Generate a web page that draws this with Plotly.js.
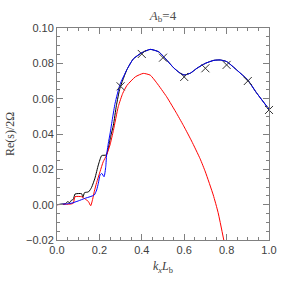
<!DOCTYPE html>
<html><head><meta charset="utf-8">
<script src="https://cdn.plot.ly/plotly-3.0.1.min.js"></script>
<style>html,body{margin:0;padding:0;background:#fff;}#plot{width:283px;height:283px;}</style>
</head><body><div id="plot"></div>
<script>
// Black curve
const blackK = [0,0.02,0.04,0.05,0.06,0.069,0.077,0.085,0.116,0.122,0.13,0.148,0.156,0.164,0.179,0.195,0.211,0.232,0.242,0.253,0.266,0.28,0.297,0.33,0.36,0.40,0.44,0.48,0.52,0.55,0.58,0.60,0.63,0.66,0.70,0.74,0.77,0.80,0.85,0.90,0.94,1.0];
const blackRe = [0,0.0003,0.0006,0.0017,0.0012,0.0026,0.0030,0.0060,0.0062,0.0042,0.0068,0.0072,0.0083,0.0100,0.0150,0.0225,0.0278,0.0281,0.0319,0.0385,0.0450,0.0560,0.0660,0.0765,0.0825,0.0860,0.0879,0.0865,0.0815,0.0775,0.0745,0.0734,0.0745,0.0772,0.0800,0.0817,0.0819,0.0810,0.0760,0.0705,0.0635,0.0540];
// Blue curve
const blueK = [0,0.02,0.05,0.07,0.1,0.13,0.156,0.176,0.187,0.195,0.203,0.211,0.222,0.23,0.234,0.242,0.25,0.262,0.274,0.297,0.33,0.36,0.40,0.44,0.48,0.52,0.55,0.58,0.60,0.63,0.66,0.70,0.74,0.77,0.80,0.85,0.90,0.94,1.0];
const blueRe = [0,0.0002,0.0005,0.0009,0.0021,0.0035,0.0045,0.0055,0.0083,0.0121,0.0168,0.0177,0.0158,0.0215,0.0281,0.0347,0.0400,0.0490,0.0574,0.0680,0.0765,0.0825,0.0860,0.0879,0.0865,0.0815,0.0775,0.0745,0.0734,0.0745,0.0772,0.0800,0.0817,0.0819,0.0810,0.0760,0.0705,0.0635,0.0540];
// Red curve
const redK = [0,0.04,0.066,0.077,0.085,0.116,0.135,0.148,0.159,0.168,0.176,0.187,0.203,0.218,0.234,0.25,0.266,0.289,0.31,0.33,0.37,0.407,0.44,0.47,0.517,0.565,0.60,0.635,0.675,0.70,0.737,0.76,0.79];
const redRe = [0,0.0002,0.0004,0.0008,0.0045,0.0045,0.0030,0.0018,-0.0006,0.0030,0.0075,0.0125,0.0187,0.0243,0.0281,0.0338,0.0420,0.0555,0.0630,0.0675,0.0724,0.0743,0.0733,0.0690,0.0611,0.0515,0.0440,0.0360,0.0260,0.0185,0.0055,-0.0045,-0.0220];
// Cross markers
const crossK = [0.3,0.4,0.5,0.6,0.7,0.8,0.9,1.0];
const crossRe = [0.067,0.0853,0.0832,0.0723,0.0772,0.0791,0.0700,0.0536];

const lineStyle = (c) => ({color:c, width:1, shape:'spline', smoothing:0.5});
const traces = [
  {x:blackK, y:blackRe, mode:'lines', line:lineStyle('#000000'), hoverinfo:'skip'},
  {x:redK, y:redRe, mode:'lines', line:lineStyle('#ff0000'), hoverinfo:'skip'},
  {x:blueK, y:blueRe, mode:'lines', line:lineStyle('#0000ff'), hoverinfo:'skip'},
  {x:crossK, y:crossRe, mode:'markers', cliponaxis:false,
   marker:{symbol:'x-thin-open', size:8, color:'#333333', line:{color:'#333333', width:1}}, hoverinfo:'skip'}
];
const axisCommon = {
  showline:true, linecolor:'#808080', linewidth:1, mirror:'allticks',
  ticks:'inside', ticklen:6, tickcolor:'#808080', tickwidth:1,
  showgrid:false, zeroline:false,
  tickfont:{family:'Liberation Sans, Arial, sans-serif', size:11, color:'#404040'}
};
const layout = {
  width:283, height:283, autosize:false,
  margin:{l:57, r:14, t:28, b:43, pad:0},
  paper_bgcolor:'#ffffff', plot_bgcolor:'#ffffff', showlegend:false,
  title:{text:'<i>A</i><sub>b</sub>=4', font:{family:'Liberation Serif, serif', size:13, color:'#505050'},
         x:0.5, xref:'paper', y:1-15/283, yref:'container', yanchor:'middle'},
  xaxis:Object.assign({}, axisCommon, {
    range:[0,1], tickvals:[0,0.2,0.4,0.6,0.8,1.0], tickformat:'.1f',
    minor:{dtick:0.05, ticks:'inside', ticklen:3, tickcolor:'#808080'},
    title:{text:'<i>k<sub>x</sub>L</i><sub>b</sub>', font:{family:'Liberation Serif, serif', size:12, color:'#404040'}, standoff:6}
  }),
  yaxis:Object.assign({}, axisCommon, {
    range:[-0.02,0.10], tickvals:[-0.02,0,0.02,0.04,0.06,0.08,0.10], tickformat:'.2f',
    minor:{dtick:0.005, ticks:'inside', ticklen:3, tickcolor:'#808080'},
    title:{text:'Re(s)/2Ω', font:{family:'Liberation Serif, serif', size:12, color:'#404040'}, standoff:8}
  })
};
Plotly.newPlot('plot', traces, layout, {staticPlot:true, displayModeBar:false});
</script></body></html>
